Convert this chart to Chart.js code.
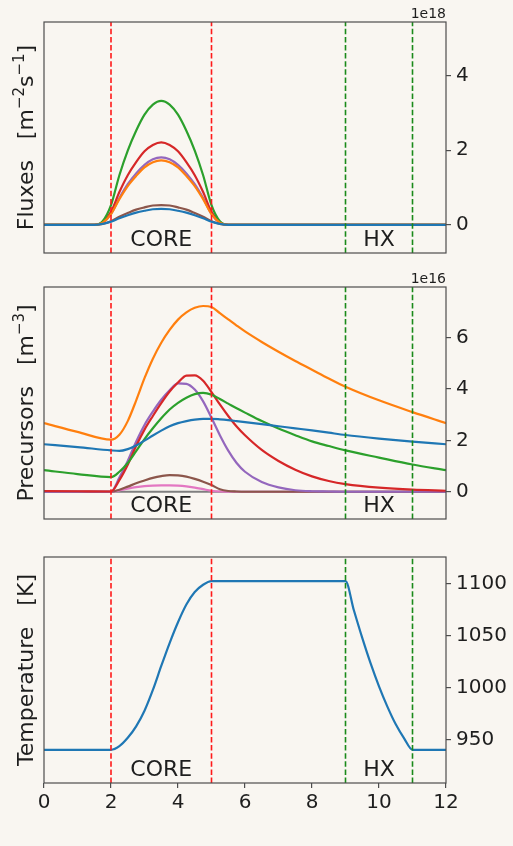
<!DOCTYPE html>
<html>
<head>
<meta charset="utf-8">
<title>Axial profiles</title>
<script src="https://cdn.jsdelivr.net/npm/chart.js@4.4.1/dist/chart.umd.min.js"></script>
<style>
    html, body { margin: 0; padding: 0; background: #f9f6f1; }
    #wrap { position: relative; width: 513px; height: 846px; background: #f9f6f1; overflow: hidden; }
    #wrap canvas { position: absolute; left: 0; }
</style>
</head>
<body>
<div id="wrap">
    <canvas id="flux-chart" width="513" height="270" style="top:0px"></canvas>
    <canvas id="prec-chart" width="513" height="270" style="top:270px"></canvas>
    <canvas id="temp-chart" width="513" height="306" style="top:540px"></canvas>
</div>
<script>
// ---- Data ----

// Neutron fluxes, units of 1e18 m^-2 s^-1, six energy groups
const fluxX = [0, 1.5, 1.75, 2, 2.25, 2.5, 2.75, 3, 3.25, 3.5, 3.75, 4, 4.25, 4.5, 4.75, 5, 5.25, 5.5, 12];
const fluxG1 = [0, 0, 0.03, 0.09, 0.18, 0.26, 0.33, 0.38, 0.42, 0.43, 0.42, 0.38, 0.33, 0.26, 0.18, 0.09, 0.03, 0, 0];
const fluxG2 = [0, 0, 0.06, 0.29, 0.69, 1.04, 1.31, 1.54, 1.68, 1.73, 1.68, 1.54, 1.31, 1.04, 0.69, 0.29, 0.06, 0, 0];
const fluxG3 = [0, 0, 0.10, 0.53, 1.33, 1.99, 2.52, 2.95, 3.22, 3.32, 3.22, 2.95, 2.52, 1.99, 1.33, 0.53, 0.10, 0, 0];
const fluxG4 = [0, 0, 0.07, 0.35, 0.88, 1.33, 1.68, 1.97, 2.14, 2.21, 2.14, 1.97, 1.68, 1.33, 0.88, 0.35, 0.07, 0, 0];
const fluxG5 = [0, 0, 0.06, 0.29, 0.72, 1.09, 1.38, 1.61, 1.76, 1.81, 1.76, 1.61, 1.38, 1.09, 0.72, 0.29, 0.06, 0, 0];
const fluxG6 = [0, 0, 0.03, 0.10, 0.22, 0.32, 0.41, 0.47, 0.52, 0.53, 0.52, 0.47, 0.41, 0.32, 0.22, 0.10, 0.03, 0, 0];

// Delayed neutron precursors, units of 1e16 m^-3, eight groups
const precX = [0, 1, 2, 2.25, 2.5, 2.75, 3, 3.25, 3.5, 3.75, 4, 4.25, 4.5, 4.75, 5, 5.25, 5.5, 5.75, 6, 6.5, 7, 7.5, 8, 8.5, 9, 10, 11, 12];
const precG1 = [1.85, 1.74, 1.61, 1.59, 1.66, 1.80, 1.99, 2.19, 2.38, 2.55, 2.67, 2.75, 2.81, 2.84, 2.84, 2.82, 2.79, 2.75, 2.71, 2.63, 2.55, 2.47, 2.39, 2.30, 2.21, 2.07, 1.95, 1.85];
const precG2 = [2.67, 2.33, 2.03, 2.22, 2.75, 3.55, 4.42, 5.18, 5.80, 6.30, 6.70, 6.98, 7.16, 7.23, 7.19, 6.95, 6.71, 6.47, 6.24, 5.83, 5.45, 5.09, 4.75, 4.41, 4.09, 3.56, 3.10, 2.67];
const precG3 = [0.84, 0.69, 0.57, 0.78, 1.12, 1.58, 2.05, 2.47, 2.86, 3.20, 3.46, 3.66, 3.80, 3.85, 3.78, 3.61, 3.43, 3.25, 3.08, 2.75, 2.46, 2.20, 1.96, 1.78, 1.61, 1.33, 1.06, 0.84];
const precG4 = [0.03, 0.02, 0.01, 0.45, 1.05, 1.78, 2.42, 2.95, 3.45, 3.90, 4.25, 4.52, 4.53, 4.32, 3.88, 3.40, 2.95, 2.54, 2.20, 1.63, 1.20, 0.86, 0.60, 0.42, 0.30, 0.16, 0.08, 0.04];
const precG5 = [0, 0, 0, 0.55, 1.20, 1.95, 2.60, 3.12, 3.58, 3.95, 4.22, 4.20, 3.98, 3.52, 2.88, 2.20, 1.60, 1.12, 0.78, 0.38, 0.17, 0.06, 0.02, 0.01, 0, 0, 0, 0];
const precG6 = [0, 0, 0, 0.08, 0.20, 0.33, 0.44, 0.54, 0.61, 0.65, 0.64, 0.59, 0.50, 0.39, 0.26, 0.10, 0.03, 0.01, 0, 0, 0, 0, 0, 0, 0, 0, 0, 0];
const precG7 = [0, 0, 0, 0.05, 0.12, 0.18, 0.22, 0.24, 0.25, 0.25, 0.24, 0.21, 0.16, 0.10, 0.04, 0.01, 0, 0, 0, 0, 0, 0, 0, 0, 0, 0, 0, 0];
const precG8 = [0, 0, 0, 0, 0, 0, 0, 0, 0, 0, 0, 0, 0, 0, 0, 0, 0, 0, 0, 0, 0, 0, 0, 0, 0, 0, 0, 0];

// Salt temperature, K
const tempX = [0, 2, 2.25, 2.5, 2.75, 3, 3.25, 3.5, 3.75, 4, 4.25, 4.5, 4.75, 5, 9, 9.25, 9.5, 9.75, 10, 10.25, 10.5, 10.75, 11, 12];
const tempK = [940.5, 940.5, 944, 952, 963, 978, 998, 1021, 1043, 1063, 1080, 1092, 1099, 1102.5, 1102.5, 1074.5, 1048, 1023.5, 1001.5, 982, 965, 951.5, 940.5, 940.5];

// Tick labels
const xTicks = [0, 2, 4, 6, 8, 10, 12];
const fluxTicks = [0, 2, 4];
const precTicks = [0, 2, 4, 6];
const tempTicks = [950, 1000, 1050, 1100];

// Region boundaries and names
const coreBounds = [2, 5];
const hxBounds = [9, 11];
const regionNames = ['CORE', 'HX'];
const regionCentres = [3.5, 10];

document.addEventListener('DOMContentLoaded', function() {
    const palette = ['#1f77b4', '#ff7f0e', '#2ca02c', '#d62728', '#9467bd', '#8c564b', '#e377c2', '#7f7f7f'];
    const FONT = 'DejaVu Sans';
    const frameColor = '#4d4d4d';
    const textColor = '#1e1e1e';

    // Build a dataset list from x values and several y series
    function makeDatasets(xs, seriesList) {
        return seriesList.map((ys, i) => ({
            data: ys.map((y, j) => ({ x: xs[j], y: y })),
            borderColor: palette[i],
            borderWidth: 2.2,
            pointRadius: 0,
            fill: false,
            cubicInterpolationMode: 'monotone',
            borderJoinStyle: 'round'
        }));
    }

    // Draws text rotated by -90deg, parts can be superscripts
    function drawRotatedTitle(ctx, parts, baseX, centreY) {
        const big = '22px "' + FONT + '"';
        const small = '15px "' + FONT + '"';
        ctx.save();
        ctx.translate(baseX, centreY);
        ctx.rotate(-Math.PI / 2);
        ctx.fillStyle = textColor;
        ctx.textBaseline = 'alphabetic';
        ctx.textAlign = 'left';
        let total = 0;
        const widths = parts.map(p => {
            ctx.font = p.sup ? small : big;
            const w = ctx.measureText(p.text).width;
            total += w;
            return w;
        });
        let pos = -total / 2;
        parts.forEach((p, i) => {
            ctx.font = p.sup ? small : big;
            ctx.fillText(p.text, pos, p.sup ? -9 : 0);
            pos += widths[i];
        });
        ctx.restore();
    }

    // Region lines, frame, labels and titles
    const panelDeco = {
        id: 'panelDeco',
        afterDatasetsDraw(chart) {
            const ctx = chart.ctx;
            const area = chart.chartArea;
            const xs = chart.scales.x;
            const lines = [
                { at: coreBounds[0], color: '#ff1a1a' },
                { at: coreBounds[1], color: '#ff1a1a' },
                { at: hxBounds[0], color: '#1a8a1a' },
                { at: hxBounds[1], color: '#1a8a1a' }
            ];
            ctx.save();
            ctx.lineWidth = 1.6;
            ctx.setLineDash([5.5, 2.6]);
            lines.forEach(line => {
                const px = xs.getPixelForValue(line.at);
                ctx.strokeStyle = line.color;
                ctx.beginPath();
                ctx.moveTo(px, area.bottom);
                ctx.lineTo(px, area.top);
                ctx.stroke();
            });
            ctx.restore();
        },
        afterDraw(chart, args, opts) {
            const ctx = chart.ctx;
            const area = chart.chartArea;
            const xs = chart.scales.x;

            ctx.save();
            ctx.strokeStyle = frameColor;
            ctx.lineWidth = 1.2;
            ctx.strokeRect(area.left, area.top, area.right - area.left, area.bottom - area.top);

            // CORE / HX labels
            ctx.fillStyle = textColor;
            ctx.font = '22px "' + FONT + '"';
            ctx.textAlign = 'center';
            ctx.textBaseline = 'alphabetic';
            regionNames.forEach((name, i) => {
                ctx.fillText(name, xs.getPixelForValue(regionCentres[i]), area.bottom - 7.5);
            });

            // exponent offset text
            if (opts.offsetText) {
                ctx.font = '14px "' + FONT + '"';
                ctx.textAlign = 'right';
                ctx.fillText(opts.offsetText, area.right, area.top - 4);
            }

            // x axis title
            if (opts.xTitle) {
                ctx.font = '22px "' + FONT + '"';
                ctx.textAlign = 'center';
                ctx.fillText(opts.xTitle, (area.left + area.right) / 2, 838);
            }
            ctx.restore();

            drawRotatedTitle(ctx, opts.yTitle, 33.3, (area.top + area.bottom) / 2);
        }
    };

    function makeChart(canvasId, cfg) {
        const showX = !!cfg.showX;
        return new Chart(document.getElementById(canvasId), {
            type: 'line',
            data: { datasets: makeDatasets(cfg.xs, cfg.series) },
            options: {
                responsive: false,
                animation: false,
                devicePixelRatio: 1,
                layout: { padding: { left: 44, right: 0, top: cfg.padTop, bottom: cfg.padBottom } },
                plugins: {
                    legend: { display: false },
                    tooltip: { enabled: false },
                    panelDeco: { yTitle: cfg.yTitle, offsetText: cfg.offsetText, xTitle: cfg.xTitle }
                },
                scales: {
                    x: {
                        type: 'linear',
                        display: showX,
                        min: 0,
                        max: 12,
                        afterBuildTicks: s => { s.ticks = xTicks.map(v => ({ value: v })); },
                        afterFit: s => { if (showX) s.height = 63; },
                        grid: { drawOnChartArea: false, tickLength: 5, color: frameColor, lineWidth: 1.2 },
                        border: { display: false },
                        ticks: {
                            autoSkip: false,
                            maxRotation: 0,
                            padding: 3,
                            color: textColor,
                            font: { family: FONT, size: 20 },
                            callback: v => String(v)
                        }
                    },
                    y: {
                        type: 'linear',
                        position: 'right',
                        min: cfg.yMin,
                        max: cfg.yMax,
                        afterBuildTicks: s => { s.ticks = cfg.yTicks.map(v => ({ value: v })); },
                        afterFit: s => { s.width = 67; },
                        grid: { drawOnChartArea: false, tickLength: 5, color: frameColor, lineWidth: 1.2 },
                        border: { display: false },
                        ticks: {
                            padding: 5,
                            color: textColor,
                            font: { family: FONT, size: 20 },
                            callback: v => String(v)
                        }
                    }
                }
            },
            plugins: [panelDeco]
        });
    }

    makeChart('flux-chart', {
        xs: fluxX,
        series: [fluxG1, fluxG2, fluxG3, fluxG4, fluxG5, fluxG6],
        yMin: -0.75, yMax: 5.43, yTicks: fluxTicks,
        padTop: 22, padBottom: 15,
        offsetText: '1e18',
        yTitle: [{ text: 'Fluxes   [m' }, { text: '\u22122', sup: true }, { text: 's' }, { text: '\u22121', sup: true }, { text: ']' }]
    });

    makeChart('prec-chart', {
        xs: precX,
        series: [precG1, precG2, precG3, precG4, precG5, precG6, precG7, precG8],
        yMin: -1.06, yMax: 7.97, yTicks: precTicks,
        padTop: 16, padBottom: 21,
        offsetText: '1e16',
        yTitle: [{ text: 'Precursors   [m' }, { text: '\u22123', sup: true }, { text: ']' }]
    });

    makeChart('temp-chart', {
        xs: tempX,
        series: [tempK],
        yMin: 908.6, yMax: 1125.7, yTicks: tempTicks,
        padTop: 13, padBottom: 0,
        showX: true,
        xTitle: 'Axial coordinate   [m]',
        yTitle: [{ text: 'Temperature   [K]' }]
    });
});
</script>
</body>
</html>
